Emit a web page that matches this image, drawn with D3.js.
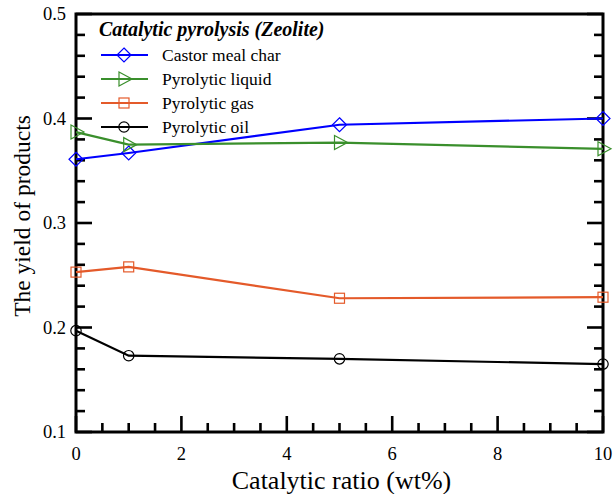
<!DOCTYPE html>
<html>
<head>
<meta charset="utf-8">
<script src="https://cdn.jsdelivr.net/npm/d3@7"></script>
<style>
  body { margin: 0; background: #fff; }
  svg { display: block; }
  text { font-family: "Liberation Serif", "Times New Roman", Times, serif; }
</style>
</head>
<body>
<script>
// Data
const ratios = [0, 1, 5, 10];
const charYield = [0.361, 0.367, 0.394, 0.400];
const liquidYield = [0.387, 0.375, 0.377, 0.371];
const gasYield = [0.253, 0.258, 0.228, 0.229];
const oilYield = [0.197, 0.173, 0.170, 0.165];

const seriesNames = ["Castor meal char", "Pyrolytic liquid", "Pyrolytic gas", "Pyrolytic oil"];
const seriesColors = ["#0000ff", "#3a8f2c", "#e45a2a", "#000000"];
const seriesSymbols = ["diamond", "triangle", "square", "circle"];
const seriesValues = [charYield, liquidYield, gasYield, oilYield];

const xTicks = [0, 2, 4, 6, 8, 10];
const yTicks = [0.1, 0.2, 0.3, 0.4, 0.5];

const width = 614, height = 494;
const margin = { top: 14, right: 11, bottom: 62, left: 76 };

const x = d3.scaleLinear().domain([0, 10]).range([margin.left, width - margin.right]);
const y = d3.scaleLinear().domain([0.1, 0.5]).range([height - margin.bottom, margin.top]);

const svg = d3.select("body").append("svg")
  .attr("width", width)
  .attr("height", height);

// Marker shapes, drawn hollow.
function marker(sel, kind, color) {
  if (kind === "diamond") {
    sel.append("path").attr("d", "M0,-7 L7,0 L0,7 L-7,0 Z");
  } else if (kind === "triangle") {
    sel.append("path").attr("d", "M-5,-7 L8,0 L-5,7 Z");
  } else if (kind === "square") {
    sel.append("rect").attr("x", -5).attr("y", -5).attr("width", 10).attr("height", 10);
  } else {
    sel.append("circle").attr("r", 5.2);
  }
  sel.selectAll("*")
    .attr("fill", "none")
    .attr("stroke", color)
    .attr("stroke-width", 1.2);
}

// Minor ticks
const xMinor = d3.range(0, 10.001, 0.5);
const yMinor = d3.range(0.1, 0.5001, 0.02);

const tickG = svg.append("g").attr("stroke", "#000").attr("stroke-width", 2.6);
const isMajorX = (v) => Math.abs(v / 2 - Math.round(v / 2)) < 1e-6;
const isMajorY = (v) => Math.abs(v * 10 - Math.round(v * 10)) < 1e-6;

tickG.selectAll(".xt").data(xMinor).join("line")
  .attr("x1", (d) => x(d)).attr("x2", (d) => x(d))
  .attr("y1", y(0.1)).attr("y2", (d) => y(0.1) - (isMajorX(d) ? 16 : 9));

tickG.selectAll(".yl").data(yMinor).join("line")
  .attr("x1", x(0)).attr("x2", (d) => x(0) + (isMajorY(d) ? 16 : 9))
  .attr("y1", (d) => y(d)).attr("y2", (d) => y(d));

tickG.selectAll(".yr").data(yMinor).join("line")
  .attr("x1", x(10)).attr("x2", (d) => x(10) - (isMajorY(d) ? 16 : 9))
  .attr("y1", (d) => y(d)).attr("y2", (d) => y(d));

// Frame
svg.append("rect")
  .attr("x", x(0)).attr("y", y(0.5))
  .attr("width", x(10) - x(0)).attr("height", y(0.1) - y(0.5))
  .attr("fill", "none").attr("stroke", "#000").attr("stroke-width", 3);

// Tick labels
svg.append("g").selectAll("text").data(xTicks).join("text")
  .attr("x", (d) => x(d)).attr("y", 460)
  .attr("text-anchor", "middle")
  .attr("font-size", 18.5)
  .text((d) => d);

svg.append("g").selectAll("text").data(yTicks).join("text")
  .attr("x", 66).attr("y", (d) => y(d))
  .attr("dy", "0.35em")
  .attr("text-anchor", "end")
  .attr("font-size", 18.5)
  .text((d) => d.toFixed(1));

// Axis titles
svg.append("text")
  .attr("x", (x(0) + x(10)) / 2 + 2).attr("y", 489)
  .attr("text-anchor", "middle")
  .attr("font-size", 26)
  .text("Catalytic ratio (wt%)");

svg.append("text")
  .attr("transform", "translate(30," + 216 + ") rotate(-90)")
  .attr("text-anchor", "middle")
  .attr("font-size", 23.5)
  .text("The yield of products");

// Series
const line = d3.line().x((d, i) => x(ratios[i])).y((d) => y(d));

seriesValues.forEach((vals, k) => {
  svg.append("path")
    .datum(vals)
    .attr("d", line)
    .attr("fill", "none")
    .attr("stroke", seriesColors[k])
    .attr("stroke-width", 2.2);
  vals.forEach((v, i) => {
    const g = svg.append("g").attr("transform", "translate(" + x(ratios[i]) + "," + y(v) + ")");
    marker(g, seriesSymbols[k], seriesColors[k]);
  });
});

// Legend
const legend = svg.append("g");
legend.append("text")
  .attr("x", 99).attr("y", 36)
  .attr("font-size", 20)
  .attr("font-weight", "bold")
  .attr("font-style", "italic")
  .text("Catalytic pyrolysis (Zeolite)");

seriesNames.forEach((name, k) => {
  const ly = 55 + k * 24;
  legend.append("line")
    .attr("x1", 101).attr("x2", 148)
    .attr("y1", ly).attr("y2", ly)
    .attr("stroke", seriesColors[k]).attr("stroke-width", 2.2);
  const g = legend.append("g").attr("transform", "translate(124," + ly + ")");
  marker(g, seriesSymbols[k], seriesColors[k]);
  legend.append("text")
    .attr("x", 162).attr("y", ly)
    .attr("dy", "0.35em")
    .attr("font-size", 17.5)
    .text(name);
});
</script>
</body>
</html>
